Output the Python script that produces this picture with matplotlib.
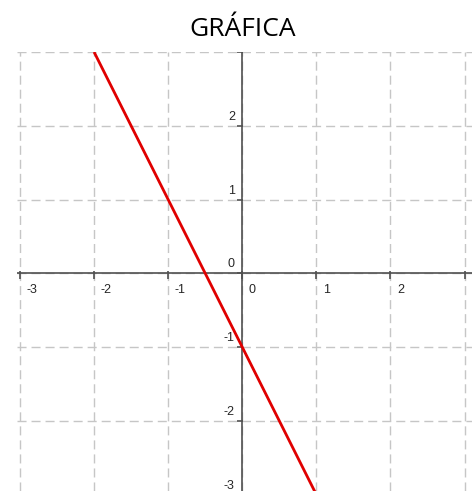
import numpy as np
import matplotlib.pyplot as plt

# recta y = -2x - 1
line_x = [-2, 1]
line_y = [3, -3]

x_ticks = [-3, -2, -1, 0, 1, 2, 3]
x_labels = ["-3", "-2", "-1", "0", "1", "2", ""]
y_ticks = [3, 2, 1, 0, -1, -2, -3]
y_labels = ["", "2", "1", "0", "-1", "-2", "-3"]

fig = plt.figure(figsize=(4.75, 4.91), dpi=100)
ax = fig.add_axes([17/475, 0, 455/475, 439/491])
ax.set_xlim(-3.04, 3.1)
ax.set_ylim(-2.95, 3.0)

for s in ax.spines.values():
    s.set_visible(False)
ax.set_xticks([])
ax.set_yticks([])

grid_kw = dict(color="#c6c6c6", lw=1.0, dashes=(6.5, 3.6), zorder=1)
for gx in x_ticks:
    ax.axvline(gx, **grid_kw)
for gy in y_ticks:
    ax.axhline(gy, **grid_kw)

ax.axhline(0, color="#505050", lw=1.2, zorder=2)
ax.axvline(0, color="#505050", lw=1.2, zorder=2)

# marcas de los ejes
ax.plot(x_ticks, [-0.02] * len(x_ticks), ls="none", marker="|", ms=6, mew=1.2,
        color="#505050", zorder=2)
ax.plot([-0.025] * len(y_ticks), y_ticks, ls="none", marker="_", ms=5, mew=1.2,
        color="#505050", zorder=2)

txt_kw = dict(fontsize=9, color="#262626", family="Liberation Sans")
for t, lab in zip(x_ticks, x_labels):
    ax.text(t + 0.09, -0.15, lab, ha="left", va="top", **txt_kw)
for t, lab in zip(y_ticks, y_labels):
    ax.text(-0.1, t + 0.04, lab, ha="right", va="bottom", **txt_kw)

ax.plot(line_x, line_y, color="#e00000", lw=2.0, zorder=3, solid_capstyle="butt")

fig.text(243/475, 1 - 36/491, "GRÁFICA", ha="center", va="baseline",
         fontsize=19, family="Open Sans")

fig.savefig("out.png", dpi=100)
